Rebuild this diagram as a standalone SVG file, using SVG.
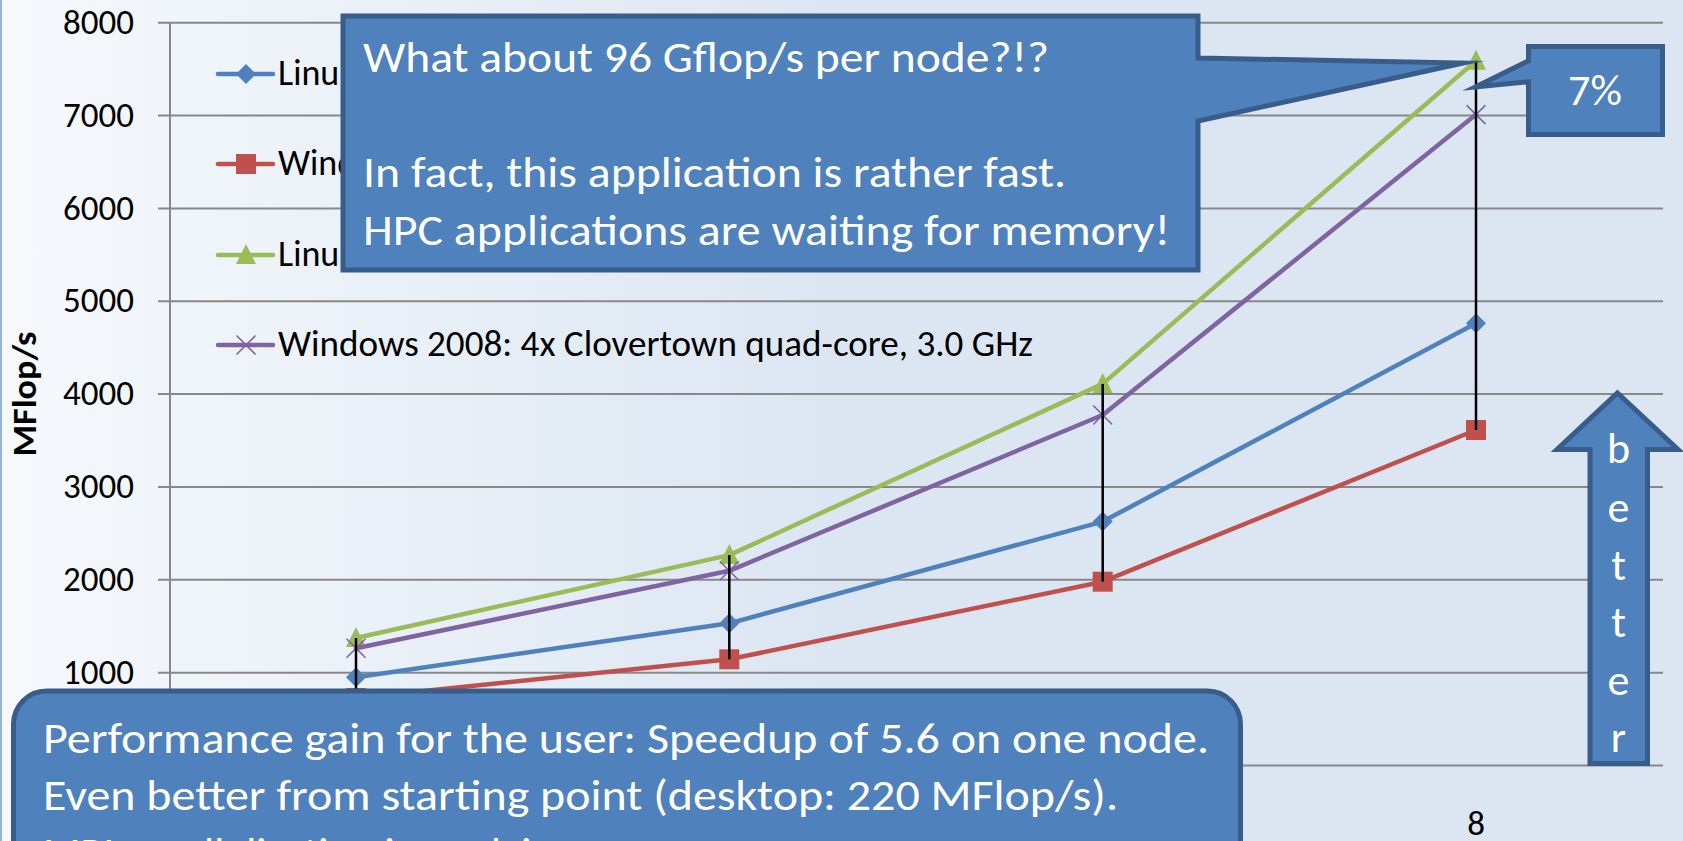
<svg xmlns="http://www.w3.org/2000/svg" width="1683" height="841" viewBox="0 0 1683 841">
<defs>
  <linearGradient id="bg" x1="0" y1="0" x2="820" y2="0" gradientUnits="userSpaceOnUse">
    <stop offset="0" stop-color="#F6F9FC"/>
    <stop offset="1" stop-color="#DCE6F2"/>
  </linearGradient>
  <path id="mk-diamond" d="M0,-10 L10,0 L0,10 L-10,0 Z"/>
  <rect id="mk-square" x="-10" y="-10" width="20" height="20"/>
  <path id="mk-triangle" d="M0,-11 L10,9 L-10,9 Z"/>
  <path id="mk-cross" d="M-9.5,-9.5 L9.5,9.5 M-9.5,9.5 L9.5,-9.5"/>
</defs>
<style>
  .grid { stroke: #888888; stroke-width: 2; }
  .txt { font-family: Carlito, Calibri, Lato, "Open Sans", sans-serif; }
  .axis-label { font-size: 35px; fill: #000; text-anchor: end; }
  .axis-title { font-size: 35px; font-weight: bold; fill: #000; text-anchor: middle; }
  .legend { font-size: 36px; fill: #000; }
  .series { fill: none; stroke-width: 4.5; stroke-linejoin: round; stroke-linecap: round; }
  .hilo { stroke: #000; stroke-width: 2.5; }
  .callout { fill: #4F81BD; stroke: #385D8A; stroke-width: 5; stroke-linejoin: miter; stroke-miterlimit: 20; }
  .callout-text { font-size: 44px; fill: #FFFFFF; }
  .ln-blue { stroke: #4F81BD; }
  .ln-red { stroke: #C0504D; }
  .ln-green { stroke: #9BBB59; }
  .ln-purple { stroke: #8064A2; }
  .mk-blue { fill: #4F81BD; }
  .mk-red { fill: #C0504D; }
  .mk-green { fill: #9BBB59; }
  .mk-purple { fill: none; stroke: #8064A2; stroke-width: 1.6; }
</style>

<!-- background of the slide -->
<g id="background">
  <rect x="0" y="0" width="1683" height="841" fill="url(#bg)"/>
  <line x1="1" y1="0" x2="1" y2="841" stroke="#95B3D7" stroke-width="2"/>
</g>

<!-- value axis, gridlines and tick labels -->
<g id="axes">
  <g class="grid">
    <line x1="158" y1="22.7" x2="1663" y2="22.7"/>
    <line x1="158" y1="115.55" x2="1663" y2="115.55"/>
    <line x1="158" y1="208.4" x2="1663" y2="208.4"/>
    <line x1="158" y1="301.25" x2="1663" y2="301.25"/>
    <line x1="158" y1="394.1" x2="1663" y2="394.1"/>
    <line x1="158" y1="486.95" x2="1663" y2="486.95"/>
    <line x1="158" y1="579.8" x2="1663" y2="579.8"/>
    <line x1="158" y1="672.65" x2="1663" y2="672.65"/>
    <line x1="158" y1="765.5" x2="1663" y2="765.5"/>
    <line x1="170" y1="22.7" x2="170" y2="765.5"/>
  </g>
  <g class="txt axis-label">
    <text x="134" y="33.8">8000</text>
    <text x="134" y="126.6">7000</text>
    <text x="134" y="219.5">6000</text>
    <text x="134" y="312.3">5000</text>
    <text x="134" y="405.2">4000</text>
    <text x="134" y="498">3000</text>
    <text x="134" y="590.9">2000</text>
    <text x="134" y="683.7">1000</text>
  </g>
  <text class="txt axis-title" transform="translate(36,394) rotate(-90)" textLength="125" lengthAdjust="spacingAndGlyphs">MFlop/s</text>
  <text class="txt" x="1476" y="835" font-size="35" text-anchor="middle" fill="#000">8</text>
</g>

<!-- data series -->
<g id="series">
  <g id="series-blue">
    <polyline class="series ln-blue" points="356,677.3 729.3,623.3 1102.7,521.6 1476,323.3"/>
    <use href="#mk-diamond" x="356" y="677.3" class="mk-blue"/>
    <use href="#mk-diamond" x="729.3" y="623.3" class="mk-blue"/>
    <use href="#mk-diamond" x="1102.7" y="521.6" class="mk-blue"/>
    <use href="#mk-diamond" x="1476" y="323.3" class="mk-blue"/>
  </g>
  <g id="series-red">
    <polyline class="series ln-red" points="356,698 729.3,659.3 1102.7,581.7 1476,430"/>
    <use href="#mk-square" x="356" y="698" class="mk-red"/>
    <use href="#mk-square" x="729.3" y="659.3" class="mk-red"/>
    <use href="#mk-square" x="1102.7" y="581.7" class="mk-red"/>
    <use href="#mk-square" x="1476" y="430" class="mk-red"/>
  </g>
  <g id="series-green">
    <polyline class="series ln-green" points="356,638 729.3,555.1 1102.7,383.9 1476,60.8"/>
    <use href="#mk-triangle" x="356" y="638" class="mk-green"/>
    <use href="#mk-triangle" x="729.3" y="555.1" class="mk-green"/>
    <use href="#mk-triangle" x="1102.7" y="383.9" class="mk-green"/>
    <use href="#mk-triangle" x="1476" y="60.8" class="mk-green"/>
  </g>
  <g id="series-purple">
    <polyline class="series ln-purple" points="356,648.3 729.3,570.8 1102.7,415 1476,114.6"/>
    <use href="#mk-cross" x="356" y="648.3" class="mk-purple"/>
    <use href="#mk-cross" x="729.3" y="570.8" class="mk-purple"/>
    <use href="#mk-cross" x="1102.7" y="415" class="mk-purple"/>
    <use href="#mk-cross" x="1476" y="114.6" class="mk-purple"/>
  </g>
</g>

<!-- high-low lines between the best and worst result per core count -->
<g id="connectors" class="hilo">
  <line x1="356" y1="638" x2="356" y2="698"/>
  <line x1="729.3" y1="555.1" x2="729.3" y2="659.3"/>
  <line x1="1102.7" y1="383.9" x2="1102.7" y2="581.7"/>
  <line x1="1476" y1="60.8" x2="1476" y2="430"/>
</g>

<!-- legend -->
<g id="legend">
  <g>
    <line x1="218" y1="74" x2="273" y2="74" class="series ln-blue"/>
    <use href="#mk-diamond" x="246" y="74" class="mk-blue"/>
    <text class="txt legend" x="278" y="85.3">Linu</text>
  </g>
  <g>
    <line x1="218" y1="164" x2="273" y2="164" class="series ln-red"/>
    <use href="#mk-square" x="246" y="164" class="mk-red"/>
    <text class="txt legend" x="278" y="175.3">Wind</text>
  </g>
  <g>
    <line x1="218" y1="255" x2="273" y2="255" class="series ln-green"/>
    <use href="#mk-triangle" x="246" y="255" class="mk-green"/>
    <text class="txt legend" x="278" y="266.3">Linu</text>
  </g>
  <g>
    <line x1="218" y1="345" x2="273" y2="345" class="series ln-purple"/>
    <use href="#mk-cross" x="246" y="345" class="mk-purple"/>
    <text class="txt legend" x="278" y="356.3" textLength="755" lengthAdjust="spacingAndGlyphs">Windows 2008: 4x Clovertown quad-core, 3.0 GHz</text>
  </g>
</g>

<!-- callout: peak performance question -->
<g id="callout-peak">
  <path class="callout" d="M343,16 H1198 V58 L1463,63 L1198,121 V270 H343 Z"/>
  <g class="txt callout-text">
    <text x="363" y="71.5" textLength="686" lengthAdjust="spacingAndGlyphs">What about 96 Gflop/s per node?!?</text>
    <text x="363" y="186.7" textLength="703" lengthAdjust="spacingAndGlyphs">In fact, this application is rather fast.</text>
    <text x="363" y="244.5" textLength="807" lengthAdjust="spacingAndGlyphs">HPC applications are waiting for memory!</text>
  </g>
</g>

<!-- callout: 7% difference -->
<g id="callout-percent">
  <path class="callout" d="M1528.5,46.5 H1662.5 V134.5 H1528.5 V81.7 L1475.5,87 L1528.5,60.7 Z"/>
  <text class="txt callout-text" x="1595" y="105" text-anchor="middle">7%</text>
</g>

<!-- "better" arrow -->
<g id="arrow-better">
  <path class="callout" d="M1617.5,393 L1678,449.5 H1647.5 V763.5 H1590 V449.5 H1557 Z"/>
  <g class="txt callout-text" text-anchor="middle">
    <text x="1618.5" y="463">b</text>
    <text x="1618.5" y="521.7">e</text>
    <text x="1618.5" y="580">t</text>
    <text x="1618.5" y="636.7">t</text>
    <text x="1618.5" y="695">e</text>
    <text x="1618.5" y="751.7">r</text>
  </g>
</g>

<!-- callout: speedup summary -->
<g id="callout-summary">
  <path class="callout" d="M13.5,870 V724 A33,33 0 0 1 46.5,691 H1207.5 A33,33 0 0 1 1240.5,724 V870 Z"/>
  <g class="txt callout-text">
    <text x="43" y="752.5" textLength="1166" lengthAdjust="spacingAndGlyphs">Performance gain for the user: Speedup of 5.6 on one node.</text>
    <text x="43" y="810" textLength="1075" lengthAdjust="spacingAndGlyphs">Even better from starting point (desktop: 220 MFlop/s).</text>
    <text x="43" y="867.5">MPI parallelization is work in progress.</text>
  </g>
</g>
</svg>
